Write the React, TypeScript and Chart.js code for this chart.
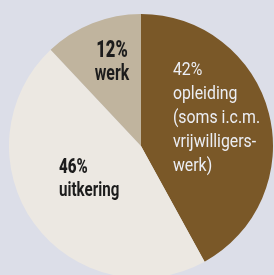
import React, { useEffect, useRef } from "react";
import { Chart, registerables } from "chart.js";

Chart.register(...registerables);

// Data
const categories = ["opleiding (soms i.c.m. vrijwilligerswerk)", "uitkering", "werk"];
const values = [42, 46, 12];
const descriptionLines = [
  ["opleiding", "(soms i.c.m.", "vrijwilligers-", "werk)"],
  ["uitkering"],
  ["werk"],
];

// Styles
const sliceColors = ["#7a5828", "#ece8e2", "#c0b49e"];
const textColors = ["#eceef4", "#1c1c1c", "#1c1c1c"];
const pctFonts = [
  "18px Roboto, sans-serif",
  "900 21px Roboto, sans-serif",
  "900 23px Roboto, sans-serif",
];
const descFonts = [
  "18px Roboto, sans-serif",
  "bold 21px Roboto, sans-serif",
  "bold 22px Roboto, sans-serif",
];
const condense = [0.88, 0.72, 0.72];
const labelAlign: CanvasTextAlign[] = ["left", "left", "center"];
// label anchor offsets as a fraction of the radius, relative to pie centre
const labelOffsets = [
  [0.242, -0.538],
  [-0.621, 0.205],
  [-0.22, -0.674],
];
const lineHeights = [24, 23, 23];

const labelPlugin = {
  id: "sliceLabels",
  afterDatasetsDraw(chart: any) {
    const ctx = chart.ctx;
    const meta = chart.getDatasetMeta(0);
    meta.data.forEach((arc: any, i: number) => {
      const r = arc.outerRadius;
      const x = arc.x + labelOffsets[i][0] * r;
      let y = arc.y + labelOffsets[i][1] * r;
      ctx.save();
      ctx.translate(x, 0);
      ctx.scale(condense[i], 1);
      ctx.fillStyle = textColors[i];
      ctx.textAlign = labelAlign[i];
      ctx.textBaseline = "alphabetic";
      ctx.font = pctFonts[i];
      ctx.fillText(`${values[i]}%`, 0, y);
      ctx.font = descFonts[i];
      descriptionLines[i].forEach((line) => {
        y += lineHeights[i];
        ctx.fillText(line, 0, y);
      });
      ctx.restore();
    });
  },
};

export default function App() {
  const canvasRef = useRef<HTMLCanvasElement | null>(null);

  useEffect(() => {
    document.body.style.margin = "0";
    document.body.style.overflow = "hidden";
    document.body.style.background = "#dcdee8";
    const canvas = canvasRef.current;
    if (!canvas) return;
    const chart = new Chart(canvas, {
      type: "pie",
      data: {
        labels: categories,
        datasets: [
          {
            data: values,
            backgroundColor: sliceColors,
            borderWidth: 0,
          },
        ],
      },
      options: {
        responsive: false,
        animation: false,
        layout: { padding: { left: 9, right: 1, top: 14, bottom: 12 } },
        plugins: {
          legend: { display: false },
          tooltip: { enabled: false },
        },
      },
      plugins: [labelPlugin],
    });
    return () => chart.destroy();
  }, []);

  return (
    <div style={{ width: 274, height: 275, overflow: "hidden", background: "#dcdee8" }}>
      <canvas ref={canvasRef} width={274} height={290} style={{ display: "block" }} />
    </div>
  );
}
